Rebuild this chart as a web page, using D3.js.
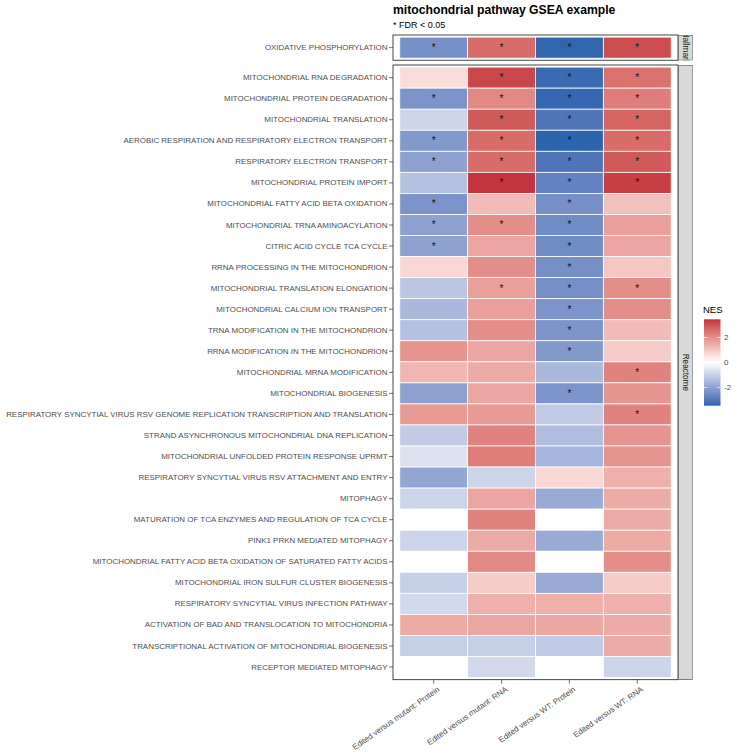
<!DOCTYPE html>
<html>
<head>
<meta charset="utf-8">
<script src="https://cdn.jsdelivr.net/npm/d3@7"></script>
<style>
  body { margin: 0; background: #fff; }
  text { font-family: "Liberation Sans", Arial, Helvetica, sans-serif; }
</style>
</head>
<body>
<div class="container"></div>
<script>
const contrasts = ["Edited versus mutant: Protein", "Edited versus mutant: RNA",
    "Edited versus WT: Protein", "Edited versus WT: RNA"];

const hallmarkPathways = ["OXIDATIVE PHOSPHORYLATION"];
const reactomePathways = [
    "MITOCHONDRIAL RNA DEGRADATION",
    "MITOCHONDRIAL PROTEIN DEGRADATION",
    "MITOCHONDRIAL TRANSLATION",
    "AEROBIC RESPIRATION AND RESPIRATORY ELECTRON TRANSPORT",
    "RESPIRATORY ELECTRON TRANSPORT",
    "MITOCHONDRIAL PROTEIN IMPORT",
    "MITOCHONDRIAL FATTY ACID BETA OXIDATION",
    "MITOCHONDRIAL TRNA AMINOACYLATION",
    "CITRIC ACID CYCLE TCA CYCLE",
    "RRNA PROCESSING IN THE MITOCHONDRION",
    "MITOCHONDRIAL TRANSLATION ELONGATION",
    "MITOCHONDRIAL CALCIUM ION TRANSPORT",
    "TRNA MODIFICATION IN THE MITOCHONDRION",
    "RRNA MODIFICATION IN THE MITOCHONDRION",
    "MITOCHONDRIAL MRNA MODIFICATION",
    "MITOCHONDRIAL BIOGENESIS",
    "RESPIRATORY SYNCYTIAL VIRUS RSV GENOME REPLICATION TRANSCRIPTION AND TRANSLATION",
    "STRAND ASYNCHRONOUS MITOCHONDRIAL DNA REPLICATION",
    "MITOCHONDRIAL UNFOLDED PROTEIN RESPONSE UPRMT",
    "RESPIRATORY SYNCYTIAL VIRUS RSV ATTACHMENT AND ENTRY",
    "MITOPHAGY",
    "MATURATION OF TCA ENZYMES AND REGULATION OF TCA CYCLE",
    "PINK1 PRKN MEDIATED MITOPHAGY",
    "MITOCHONDRIAL FATTY ACID BETA OXIDATION OF SATURATED FATTY ACIDS",
    "MITOCHONDRIAL IRON SULFUR CLUSTER BIOGENESIS",
    "RESPIRATORY SYNCYTIAL VIRUS INFECTION PATHWAY",
    "ACTIVATION OF BAD AND TRANSLOCATION TO MITOCHONDRIA",
    "TRANSCRIPTIONAL ACTIVATION OF MITOCHONDRIAL BIOGENESIS",
    "RECEPTOR MEDIATED MITOPHAGY"
];

// NES per contrast, hallmark row first then the reactome rows (null = not tested)
const nesMutProtein = [-2.4, 0.6, -2.3, -0.9, -2.2, -2.0, -1.3, -2.3, -2.0, -2.0, 0.7,
    -1.2, -1.5, -1.3, 1.9, 1.3, -2.0, 1.8, -1.1, -0.6, -1.9, -0.9, null, -0.9, null,
    -1.0, -0.8, 1.5, -1.0, null];
const nesMutRna = [2.6, 3.2, 2.1, 2.9, 2.6, 2.6, 3.45, 1.2, 2.0, 1.6, 2.0,
    1.7, 1.7, 2.0, 1.6, 1.5, 1.6, 1.8, 2.2, 2.3, -0.9, 1.6, 2.2, 1.5, 2.1,
    0.9, 1.4, 1.6, -1.0, -0.8];
const nesWtProtein = [-3.4, -3.3, -3.35, -3.0, -3.45, -3.0, -2.7, -2.4, -2.5, -2.5, -2.4,
    -2.4, -2.3, -2.3, -2.2, -1.5, -2.3, -1.1, -1.4, -1.6, 0.7, -1.8, null, -1.8, null,
    -1.8, 1.4, 1.6, -1.1, null];
const nesWtRna = [3.1, 2.5, 2.3, 2.7, 2.6, 2.9, 3.3, 1.1, 1.7, 1.6, 1.0,
    2.0, 2.0, 1.2, 0.9, 2.2, 1.9, 2.2, 1.9, 1.9, 1.4, 1.5, 1.5, 1.5, 2.0,
    0.9, 1.4, 1.5, 1.5, -0.9];

// FDR < 0.05 flags, same order
const sigMutProtein = [1, 0, 1, 0, 1, 1, 0, 1, 1, 1, 0, 0, 0, 0, 0, 0, 0, 0, 0, 0, 0, 0, 0, 0, 0, 0, 0, 0, 0, 0];
const sigMutRna     = [1, 1, 1, 1, 1, 1, 1, 0, 1, 0, 0, 1, 0, 0, 0, 0, 0, 0, 0, 0, 0, 0, 0, 0, 0, 0, 0, 0, 0, 0];
const sigWtProtein  = [1, 1, 1, 1, 1, 1, 1, 1, 1, 1, 1, 1, 1, 1, 1, 0, 1, 0, 0, 0, 0, 0, 0, 0, 0, 0, 0, 0, 0, 0];
const sigWtRna      = [1, 1, 1, 1, 1, 1, 1, 0, 0, 0, 0, 1, 0, 0, 0, 1, 0, 1, 0, 0, 0, 0, 0, 0, 0, 0, 0, 0, 0, 0];

const legendBreaks = [-2, 0, 2];

const WIDTH = 750;
const HEIGHT = 756;
const PANEL_LEFT = 393;
const PANEL_RIGHT = 678;
const ROW_H = 21.05;
const STRIP_W = 14;
const AXIS_FONT = 7.95;
const LOW = "#2C64AE", HIGH = "#C2343E";

var translate = function (x, y) {
    return "translate(" + x + "," + y + ")";
};

var nesCols = [nesMutProtein, nesMutRna, nesWtProtein, nesWtRna];
var sigCols = [sigMutProtein, sigMutRna, sigWtProtein, sigWtRna];
var allPathways = hallmarkPathways.concat(reactomePathways);

var cells = [];
allPathways.forEach(function (p, i) {
    contrasts.forEach(function (c, j) {
        cells.push({
            pathway: p,
            contrast: c,
            facet: i < hallmarkPathways.length ? "Hallmark" : "Reactome",
            nes: nesCols[j][i],
            sig: sigCols[j][i] === 1
        });
    });
});

var values = cells.filter(function (d) { return d.nes !== null; }).map(function (d) { return d.nes; });
var maxAbs = d3.max(values, function (v) { return Math.abs(v); });
var fill = function (v) {
    if (v === null) return "#ffffff";
    return v < 0 ? d3.interpolateLab("#ffffff", LOW)(-v / maxAbs)
                 : d3.interpolateLab("#ffffff", HIGH)(v / maxAbs);
};

var svg = d3.select('.container').append('svg')
    .attr('width', WIDTH)
    .attr('height', HEIGHT);

svg.append('text').attr('x', PANEL_LEFT).attr('y', 14)
    .attr('font-size', 12.2).attr('font-weight', 'bold').attr('fill', '#000')
    .text('mitochondrial pathway GSEA example');
svg.append('text').attr('x', PANEL_LEFT).attr('y', 28)
    .attr('font-size', 9).attr('fill', '#000')
    .text('* FDR < 0.05');

var xScale = d3.scaleBand()
    .domain(contrasts)
    .range([PANEL_LEFT, PANEL_RIGHT])
    .paddingOuter(0.1);

var facets = [
    { name: "Hallmark", label: "Hallmark", rows: hallmarkPathways, top: 35 },
    { name: "Reactome", label: "Reactome", rows: reactomePathways, top: 65 }
];

facets.forEach(function (f) {
    var h = ROW_H * (f.rows.length + 0.2);
    var yScale = d3.scaleBand()
        .domain(f.rows)
        .range([f.top, f.top + h])
        .paddingOuter(0.1);

    var g = svg.append('g');
    var data = cells.filter(function (d) { return d.facet === f.name; });

    g.selectAll('rect.tile').data(data).enter().append('rect')
        .attr('class', 'tile')
        .attr('x', function (d) { return xScale(d.contrast); })
        .attr('y', function (d) { return yScale(d.pathway); })
        .attr('width', xScale.bandwidth())
        .attr('height', yScale.bandwidth())
        .attr('fill', function (d) { return fill(d.nes); })
        .attr('stroke', '#fff')
        .attr('stroke-width', 0.8);

    g.selectAll('text.star').data(data.filter(function (d) { return d.sig; })).enter().append('text')
        .attr('class', 'star')
        .attr('x', function (d) { return xScale(d.contrast) + xScale.bandwidth() / 2; })
        .attr('y', function (d) { return yScale(d.pathway) + yScale.bandwidth() / 2; })
        .attr('dy', '0.35em')
        .attr('text-anchor', 'middle')
        .attr('font-size', 10)
        .attr('fill', '#111')
        .text('*');

    // y axis
    var yAxis = g.append('g').attr('transform', translate(PANEL_LEFT, 0))
        .call(d3.axisLeft(yScale).tickSize(4).tickPadding(1.5));
    yAxis.select('.domain').remove();
    yAxis.selectAll('line').attr('stroke', '#333').attr('stroke-width', 0.7);
    yAxis.selectAll('text').attr('font-size', AXIS_FONT).attr('fill', '#4D4D4D')
        .attr('font-family', '"Liberation Sans", Arial, sans-serif');

    // panel border
    g.append('rect')
        .attr('x', PANEL_LEFT).attr('y', f.top)
        .attr('width', PANEL_RIGHT - PANEL_LEFT).attr('height', h)
        .attr('fill', 'none').attr('stroke', '#333').attr('stroke-width', 0.9);

    // strip on the right, clipped like ggplot does
    var clipId = 'clip-' + f.name;
    svg.append('clipPath').attr('id', clipId).append('rect')
        .attr('x', PANEL_RIGHT + 0.5).attr('y', f.top)
        .attr('width', STRIP_W).attr('height', h);
    var s = g.append('g').attr('clip-path', 'url(#' + clipId + ')');
    s.append('rect')
        .attr('x', PANEL_RIGHT + 0.5).attr('y', f.top)
        .attr('width', STRIP_W).attr('height', h)
        .attr('fill', '#D9D9D9').attr('stroke', '#333').attr('stroke-width', 0.9);
    s.append('text')
        .attr('transform', translate(PANEL_RIGHT + 0.5 + STRIP_W / 2, f.top + h / 2) + ' rotate(90)')
        .attr('text-anchor', 'middle').attr('dy', '0.35em')
        .attr('font-size', 8.2).attr('fill', '#1A1A1A')
        .text(f.label);

    if (f.name === "Reactome") {
        var bottom = f.top + h;
        var xAxis = svg.append('g').attr('transform', translate(0, bottom))
            .call(d3.axisBottom(xScale).tickSize(4).tickPadding(2));
        xAxis.select('.domain').remove();
        xAxis.selectAll('line').attr('stroke', '#333').attr('stroke-width', 0.7);
        xAxis.selectAll('text')
            .attr('font-size', AXIS_FONT).attr('fill', '#4D4D4D')
            .attr('font-family', '"Liberation Sans", Arial, sans-serif')
            .attr('text-anchor', 'end')
            .attr('y', 0).attr('dy', '0.75em')
            .attr('transform', 'translate(3,6) rotate(-35)');
    }
});

// legend colourbar
var lx = 704, lw = 16.5;
var lScale = d3.scaleLinear().domain(d3.extent(values)).range([405.7, 319.3]);
var grad = svg.append('defs').append('linearGradient')
    .attr('id', 'nesGrad').attr('x1', 0).attr('y1', 1).attr('x2', 0).attr('y2', 0);
d3.range(0, 1.0001, 0.05).forEach(function (t) {
    var v = lScale.domain()[0] + t * (lScale.domain()[1] - lScale.domain()[0]);
    grad.append('stop').attr('offset', t).attr('stop-color', fill(v));
});
svg.append('text').attr('x', 703).attr('y', 313)
    .attr('font-size', 9.5).attr('fill', '#000').text('NES');
svg.append('rect').attr('x', lx).attr('y', lScale.range()[1])
    .attr('width', lw).attr('height', lScale.range()[0] - lScale.range()[1])
    .attr('fill', 'url(#nesGrad)');
var lg = svg.append('g');
legendBreaks.forEach(function (b) {
    var y = lScale(b);
    lg.append('line').attr('x1', lx).attr('x2', lx + 3.3).attr('y1', y).attr('y2', y)
        .attr('stroke', '#fff').attr('stroke-width', 0.7);
    lg.append('line').attr('x1', lx + lw - 3.3).attr('x2', lx + lw).attr('y1', y).attr('y2', y)
        .attr('stroke', '#fff').attr('stroke-width', 0.7);
    lg.append('text').attr('x', lx + lw + 3.5).attr('y', y).attr('dy', '0.35em')
        .attr('font-size', AXIS_FONT).attr('fill', '#4D4D4D').text(b);
});
</script>
</body>
</html>
